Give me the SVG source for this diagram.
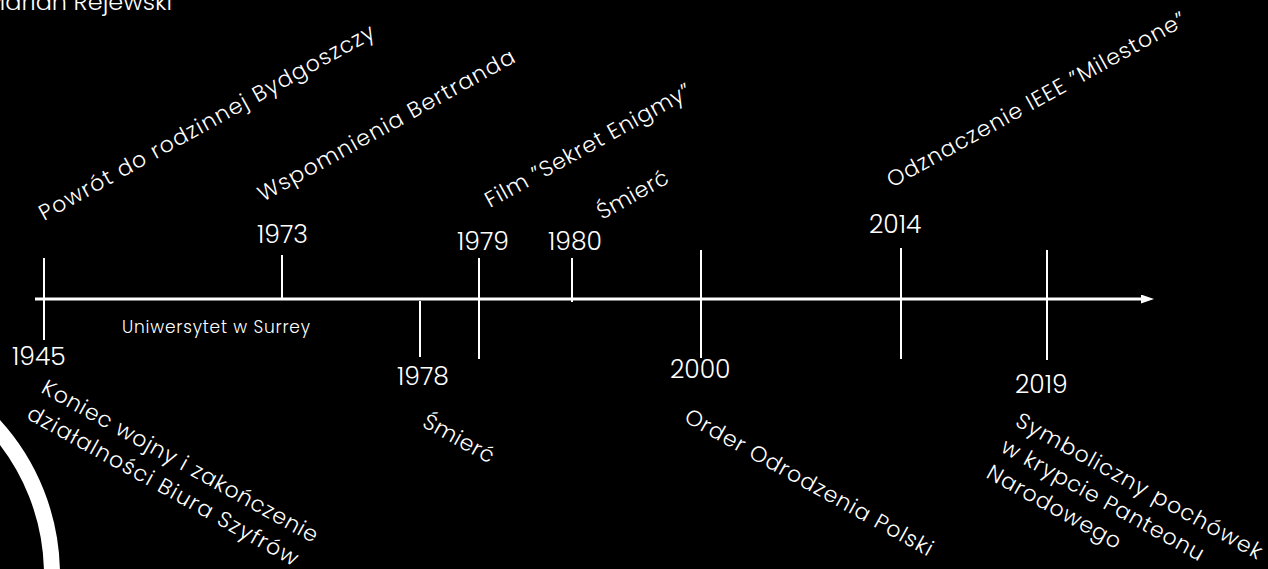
<svg xmlns="http://www.w3.org/2000/svg" width="1268" height="569" viewBox="0 0 1268 569">
  <style>
    text { font-family: "Poppins", "Open Sans", "DejaVu Sans", sans-serif; font-weight: 300; fill: #ffffff; }
    .yr { font-size: 25px; }
    .lbl { font-size: 22px; }
    .ttl { font-size: 24px; }
    .sm { font-size: 17px; }
    .tick { stroke: #ffffff; stroke-width: 2; fill: none; }
    .axis { stroke: #ffffff; stroke-width: 3; fill: none; }
  </style>
  <defs>
    <marker id="arrow" markerUnits="userSpaceOnUse" markerWidth="14" markerHeight="10" refX="0" refY="4.5" orient="auto" viewBox="0 0 14 10">
      <path d="M0,0 L13,4.5 L0,9 z" fill="#ffffff"/>
    </marker>
  </defs>
  <rect x="0" y="0" width="1268" height="569" fill="#000000"/>
  <circle cx="-170" cy="575" r="222" fill="none" stroke="#ffffff" stroke-width="16"/>
  <text class="ttl" x="172" y="10" text-anchor="end">Marian Rejewski</text>

  <g id="connectors">
    <line class="axis" x1="35" y1="299" x2="1141" y2="299" marker-end="url(#arrow)"/>
  </g>

  <g id="ev-1945">
    <line class="tick" x1="44" y1="258" x2="44" y2="340"/>
    <text class="yr" x="12" y="365">1945</text>
    <text class="lbl" transform="translate(44,221) rotate(-29)" textLength="380" lengthAdjust="spacing">Powrót do rodzinnej Bydgoszczy</text>
    <text class="lbl" transform="translate(40,392) rotate(29)" textLength="312" lengthAdjust="spacing">Koniec wojny i zakończenie</text>
    <text class="lbl" transform="translate(25.5,418) rotate(29)" textLength="306" lengthAdjust="spacing">działalności Biura Szyfrów</text>
  </g>

  <g id="uni-surrey">
    <text class="sm" x="122" y="333" textLength="188" lengthAdjust="spacing">Uniwersytet w Surrey</text>
  </g>

  <g id="ev-1973">
    <line class="tick" x1="282" y1="255" x2="282" y2="299"/>
    <text class="yr" x="257" y="243">1973</text>
    <text class="lbl" transform="translate(263,202) rotate(-29)" textLength="290" lengthAdjust="spacing">Wspomnienia Bertranda</text>
  </g>

  <g id="ev-1978">
    <line class="tick" x1="420" y1="301" x2="420" y2="357"/>
    <text class="yr" x="397" y="385">1978</text>
    <text class="lbl" transform="translate(421,426) rotate(29)" textLength="78" lengthAdjust="spacing">Śmierć</text>
  </g>

  <g id="ev-1979">
    <line class="tick" x1="479" y1="258" x2="479" y2="359"/>
    <text class="yr" x="457" y="250">1979</text>
    <text class="lbl" transform="translate(490,208) rotate(-29)" textLength="232" lengthAdjust="spacing">Film ”Sekret Enigmy”</text>
  </g>

  <g id="ev-1980">
    <line class="tick" x1="572" y1="258" x2="572" y2="302"/>
    <text class="yr" x="548" y="250">1980</text>
    <text class="lbl" transform="translate(602,220) rotate(-29)" textLength="78" lengthAdjust="spacing">Śmierć</text>
  </g>

  <g id="ev-2000">
    <line class="tick" x1="701" y1="250" x2="701" y2="358"/>
    <text class="yr" x="670" y="378">2000</text>
    <text class="lbl" transform="translate(683,421) rotate(29)" textLength="280" lengthAdjust="spacing">Order Odrodzenia Polski</text>
  </g>

  <g id="ev-2014">
    <line class="tick" x1="901" y1="248" x2="901" y2="359"/>
    <text class="yr" x="869" y="233">2014</text>
    <text class="lbl" transform="translate(892,188) rotate(-29)" textLength="338" lengthAdjust="spacing">Odznaczenie IEEE ”Milestone”</text>
  </g>

  <g id="ev-2019">
    <line class="tick" x1="1047" y1="250" x2="1047" y2="360"/>
    <text class="yr" x="1015" y="393">2019</text>
    <text class="lbl" transform="translate(1014,425) rotate(29)" textLength="278" lengthAdjust="spacing">Symboliczny pochówek</text>
    <text class="lbl" transform="translate(999.5,451) rotate(29)" textLength="228" lengthAdjust="spacing">w krypcie Panteonu</text>
    <text class="lbl" transform="translate(985,477) rotate(29)" textLength="150" lengthAdjust="spacing">Narodowego</text>
  </g>
</svg>
